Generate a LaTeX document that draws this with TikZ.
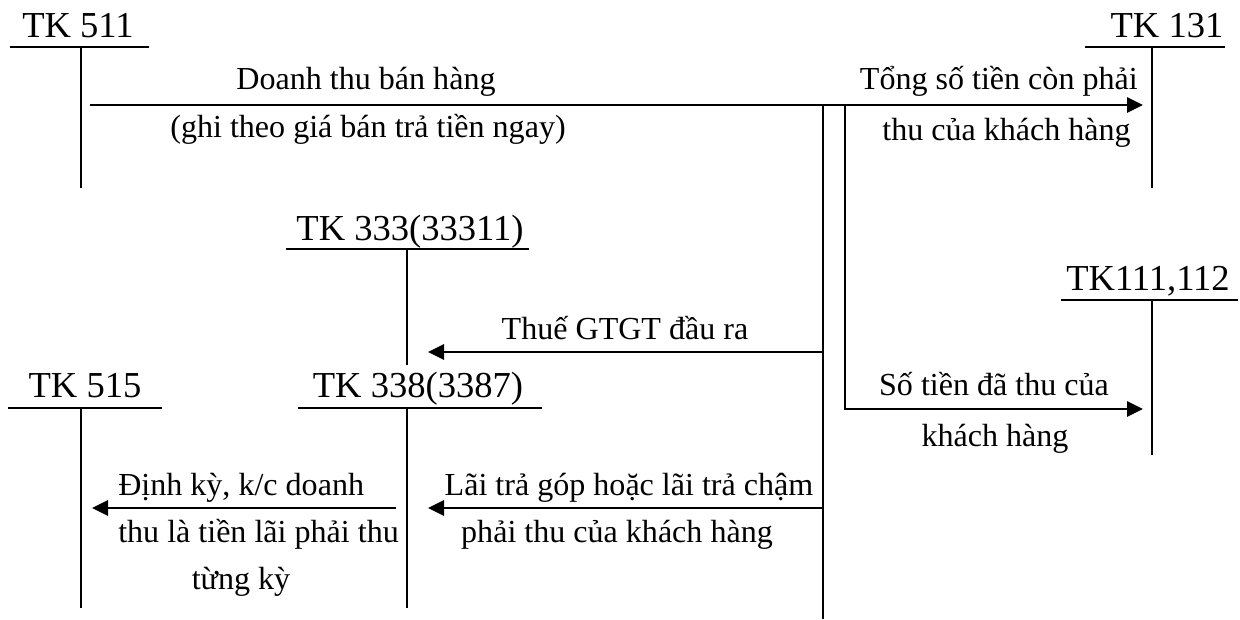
\documentclass[tikz,border=0pt]{standalone}
\usepackage{fontspec}
\setmainfont{Liberation Serif}
\usetikzlibrary{arrows.meta}

\begin{document}
\begin{tikzpicture}[x=0.025cm, y=-0.025cm,
  tklabel/.style={font=\fontsize{26}{30}\selectfont, anchor=base, inner sep=0pt},
  note/.style={font=\fontsize{22.8}{27}\selectfont, anchor=base, inner sep=0pt},
  tline/.style={line width=1.4pt},
  flow/.style={line width=2pt, -{Triangle[length=0.4cm, width=0.375cm]}}]
\useasboundingbox (0,0) rectangle (1240,619);

% TK 511
\node[tklabel] (tk511) at (78,37) {TK 511};
\draw[tline] (10,47) -- (149,47);
\draw[tline] (81,47) -- (81,188);

% TK 131
\node[tklabel] (tk131) at (1167,37) {TK 131};
\draw[tline] (1085,47) -- (1225,47);
\draw[tline] (1152,47) -- (1152,188);

% TK 333
\node[tklabel] (tk333) at (410,240) {TK 333(33311)};
\draw[tline] (286,249) -- (529,249);
\draw[tline] (407,249) -- (407,365);

% TK 515
\node[tklabel] (tk515) at (85,397) {TK 515};
\draw[tline] (8,408) -- (162,408);
\draw[tline] (81,408) -- (81,608);

% TK 338
\node[tklabel] (tk338) at (418,397) {TK 338(3387)};
\draw[tline] (298,408) -- (542,408);
\draw[tline] (407,408) -- (407,608);

% TK 111, 112
\node[tklabel] (tk111) at (1148,290) {TK111,112};
\draw[tline] (1061,300) -- (1238,300);
\draw[tline] (1152,300) -- (1152,455);

% split lines
\coordinate (splitA) at (823,105);
\coordinate (splitB) at (845,105);
\coordinate (endA) at (823,619);
\draw[tline] (splitA) -- (endA);

% arrows
\coordinate (from511) at (90,105);
\coordinate (to131) at (1143,105);
\coordinate (to111) at (1143,409);
\coordinate (vatA) at (823,352);
\coordinate (to333) at (428,352);
\coordinate (intA) at (823,508);
\coordinate (to338) at (428,508);
\coordinate (from338) at (396,508);
\coordinate (to515) at (92,508);

\draw[flow] (from511) -- (to131);
\draw[flow] (splitB) |- (to111);
\draw[flow] (vatA) -- (to333);
\draw[flow] (intA) -- (to338);
\draw[flow] (from338) -- (to515);

% Stuff
\node[note] (sale) at (366,89) {Doanh thu bán hàng};
\node[note] (saleb) at (368,137) {(ghi theo giá bán trả tiền ngay)};
\node[note,anchor=base east] (rest) at (1138,89) {Tổng số tiền còn phải};
\node[note,anchor=base east] (restb) at (1131,140) {thu của khách hàng};
\node[note] (vat) at (625,339) {Thuế GTGT đầu ra};
\node[note] (paid) at (994,395) {Số tiền đã thu của};
\node[note] (paidb) at (995,446) {khách hàng};
\node[note,anchor=base west] (period) at (118,495) {Định kỳ, k/c doanh};
\node[note,anchor=base west] (periodb) at (118,542) {thu là tiền lãi phải thu};
\node[note] (periodc) at (241,589) {từng kỳ};
\node[note] (interest) at (629,495) {Lãi trả góp hoặc lãi trả chậm};
\node[note] (interestb) at (617,542) {phải thu của khách hàng};
\end{tikzpicture}
\end{document}
